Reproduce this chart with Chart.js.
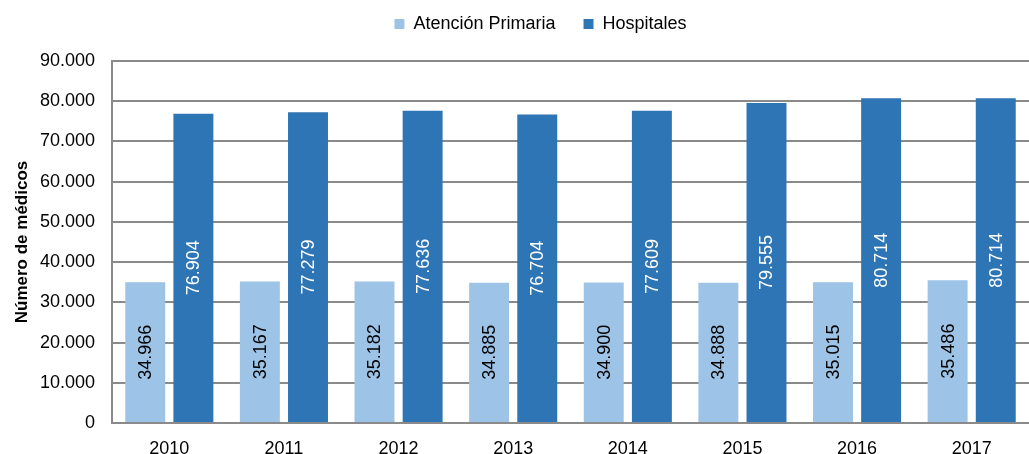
<!DOCTYPE html>
<html>
<head>
<meta charset="utf-8">
<script src="https://cdn.jsdelivr.net/npm/chart.js@4/dist/chart.umd.min.js"></script>
<style>
  html, body { margin: 0; padding: 0; background: #fff; }
  #wrap { width: 1029px; height: 454px; }
</style>
</head>
<body>
<div id="wrap"><canvas id="grafico"></canvas></div>
<script>
// datos del gráfico
const anios = ['2010', '2011', '2012', '2013', '2014', '2015', '2016', '2017'];
const atencionPrimaria = [34966, 35167, 35182, 34885, 34900, 34888, 35015, 35486];
const hospitales = [76904, 77279, 77636, 76704, 77609, 79555, 80714, 80714];
const nombresSeries = ['Atención Primaria', 'Hospitales'];
const colorClaro = '#9dc3e6';
const colorOscuro = '#2e75b6';
const fuente = "'Liberation Sans', Arial, sans-serif";

// 34966 -> "34.966"
function formatoMiles(v) {
    return String(Math.round(v)).replace(/\B(?=(\d{3})+(?!\d))/g, '.');
}

// etiquetas verticales dentro de cada barra
const etiquetasBarras = {
    id: 'etiquetasBarras',
    afterDatasetsDraw(chart) {
        const ctx = chart.ctx;
        chart.data.datasets.forEach((ds, i) => {
            const meta = chart.getDatasetMeta(i);
            meta.data.forEach((bar, j) => {
                const yMedio = (bar.y + bar.base) / 2;
                ctx.save();
                ctx.translate(bar.x, yMedio);
                ctx.rotate(-Math.PI / 2);
                ctx.font = '18px ' + fuente;
                ctx.fillStyle = i === 0 ? '#000000' : '#ffffff';
                ctx.textAlign = 'center';
                ctx.textBaseline = 'middle';
                ctx.fillText(formatoMiles(ds.data[j]), 0, 1);
                ctx.restore();
            });
        });
    }
};

// ajustes de la leyenda: algo más de aire debajo y un poco desplazada a la derecha
const ajusteLeyenda = {
    id: 'ajusteLeyenda',
    beforeInit(chart) {
        const leyenda = chart.legend;
        const fitOriginal = leyenda.fit;
        leyenda.fit = function () {
            fitOriginal.call(leyenda);
            this.height += 18;
        };
        const drawOriginal = leyenda.draw;
        leyenda.draw = function () {
            chart.ctx.save();
            chart.ctx.translate(26, 0);
            drawOriginal.call(leyenda);
            chart.ctx.restore();
        };
    }
};

const gris = '#8a8a8a';

new Chart(document.getElementById('grafico'), {
    type: 'bar',
    data: {
        labels: anios,
        datasets: [
            { label: nombresSeries[0], data: atencionPrimaria, backgroundColor: colorClaro },
            { label: nombresSeries[1], data: hospitales, backgroundColor: colorOscuro }
        ]
    },
    options: {
        responsive: true,
        maintainAspectRatio: false,
        animation: false,
        layout: { padding: { left: 0, right: 0, top: -13, bottom: 0 } },
        datasets: { bar: { categoryPercentage: 0.84, barPercentage: 0.83 } },
        plugins: {
            tooltip: { enabled: false },
            legend: {
                position: 'top',
                labels: {
                    boxWidth: 10,
                    boxHeight: 10,
                    padding: 28,
                    color: '#000',
                    font: { family: fuente, size: 18 }
                }
            }
        },
        scales: {
            x: {
                grid: { display: false, drawTicks: false },
                border: { display: true, color: gris, width: 2 },
                ticks: { color: '#000', padding: 15, font: { family: fuente, size: 18 } },
                afterFit(scale) { scale.height = 31; }
            },
            y: {
                min: 0,
                max: 90000,
                ticks: {
                    stepSize: 10000,
                    color: '#000',
                    padding: 17,
                    font: { family: fuente, size: 18 },
                    callback: (v) => formatoMiles(v)
                },
                grid: { color: gris, lineWidth: 2, drawTicks: false },
                border: { display: true, color: gris, width: 2 },
                title: {
                    display: true,
                    text: 'Número de médicos',
                    color: '#000',
                    padding: { top: 12, bottom: 0 },
                    font: { family: fuente, size: 17, weight: 'bold' }
                },
                afterFit(scale) { scale.width = 112; }
            }
        }
    },
    plugins: [etiquetasBarras, ajusteLeyenda]
});
</script>
</body>
</html>
